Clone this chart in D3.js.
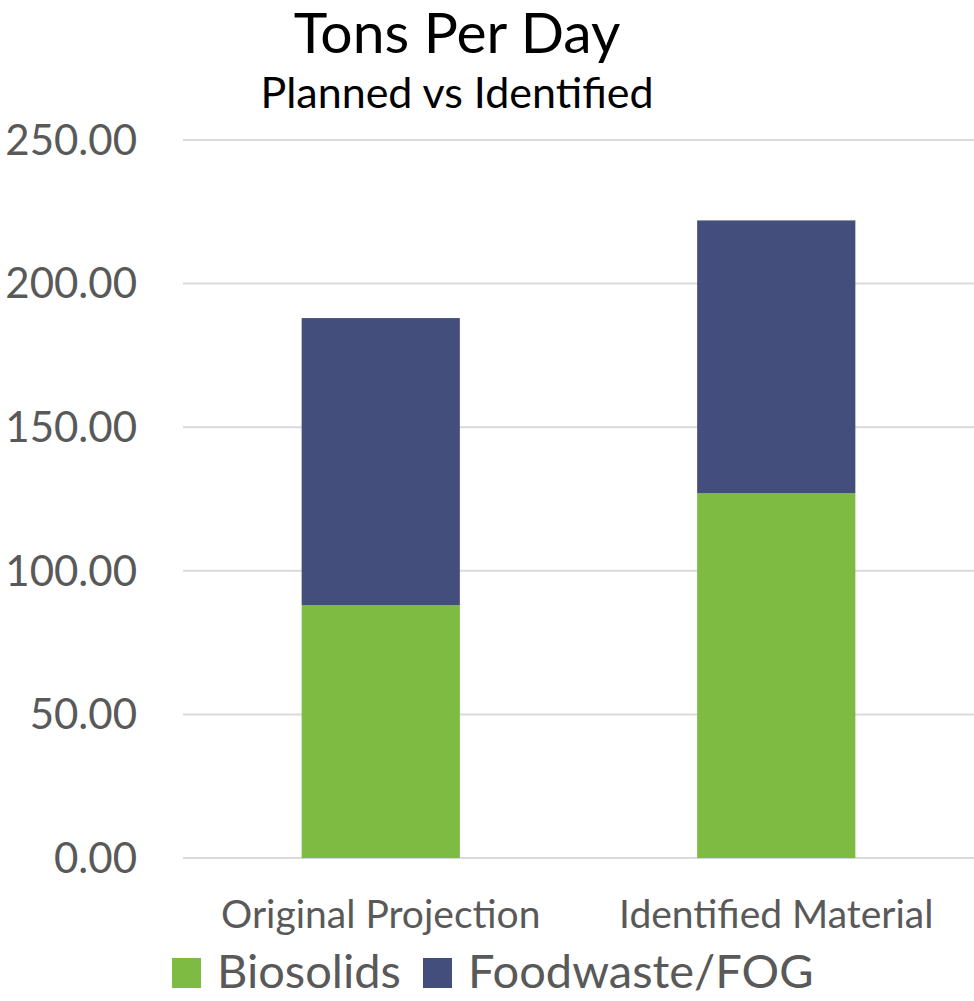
<!DOCTYPE html>
<html>
<head>
<meta charset="utf-8">
<script src="https://cdn.jsdelivr.net/npm/d3@7"></script>
<style>
  html, body { margin: 0; padding: 0; background: #fff; }
  svg { display: block; font-family: Lato, "Open Sans", sans-serif; }
</style>
</head>
<body>
<svg id="chart" width="974" height="1001"></svg>
<script>
(function () {
    'use strict';

    const categories = ["Original Projection", "Identified Material"];
    const biosolids = [88, 127];
    const foodwaste = [100, 95];
    const seriesNames = ["Biosolids", "Foodwaste/FOG"];
    const colors = ["#7dbb42", "#434e7c"];
    const yTicks = [0, 50, 100, 150, 200, 250];

    const width = 974;
    const margin = {left: 183, right: 0, top: 140, bottom: 143};
    const height = 1001;

    const rows = categories.map((c, i) => ({
        category: c,
        Biosolids: biosolids[i],
        "Foodwaste/FOG": foodwaste[i]
    }));

    const stack = d3.stack().keys(seriesNames)(rows);

    const x = d3.scaleBand()
        .domain(categories)
        .range([margin.left, width - margin.right])
        .paddingInner(0.6)
        .paddingOuter(0.3);

    const y = d3.scaleLinear()
        .domain([0, 250])
        .range([height - margin.bottom, margin.top]);

    const color = d3.scaleOrdinal().domain(seriesNames).range(colors);

    const svg = d3.select("#chart");

    // gridlines
    svg.append("g")
        .selectAll("line")
        .data(yTicks)
        .join("line")
        .attr("x1", margin.left)
        .attr("x2", width - margin.right)
        .attr("y1", d => y(d))
        .attr("y2", d => y(d))
        .attr("stroke", "#d9d9d9")
        .attr("stroke-width", 2);

    // y tick labels
    svg.append("g")
        .attr("text-anchor", "end")
        .attr("fill", "#595959")
        .style("font-size", "42px")
        .selectAll("text")
        .data(yTicks)
        .join("text")
        .attr("x", 137)
        .attr("y", d => y(d))
        .attr("dy", "0.35em")
        .text(d3.format(".2f"));

    // stacked bars
    svg.append("g")
        .selectAll("g")
        .data(stack)
        .join("g")
        .attr("fill", d => color(d.key))
        .selectAll("rect")
        .data(d => d)
        .join("rect")
        .attr("x", d => x(d.data.category))
        .attr("width", x.bandwidth())
        .attr("y", d => y(d[1]))
        .attr("height", d => y(d[0]) - y(d[1]));

    // category labels
    svg.append("g")
        .attr("text-anchor", "middle")
        .attr("fill", "#595959")
        .style("font-size", "39px")
        .selectAll("text")
        .data(categories)
        .join("text")
        .attr("x", d => x(d) + x.bandwidth() / 2)
        .attr("y", 914)
        .attr("dy", "0.35em")
        .text(d => d);

    // titles
    svg.append("text")
        .attr("x", 457)
        .attr("y", 33)
        .attr("dy", "0.35em")
        .attr("text-anchor", "middle")
        .style("font-size", "57px")
        .attr("fill", "#000")
        .text("Tons Per Day");

    svg.append("text")
        .attr("x", 457)
        .attr("y", 93)
        .attr("dy", "0.35em")
        .attr("text-anchor", "middle")
        .style("font-size", "43px")
        .attr("fill", "#000")
        .text("Planned vs Identified");

    // legend
    const legend = svg.append("g")
        .style("font-size", "47px")
        .attr("fill", "#595959");
    const legendX = [172, 423];
    seriesNames.forEach((name, i) => {
        legend.append("rect")
            .attr("x", legendX[i])
            .attr("y", 958)
            .attr("width", 29)
            .attr("height", 30)
            .attr("fill", color(name));
        legend.append("text")
            .attr("x", legendX[i] + 45)
            .attr("y", 972)
            .attr("dy", "0.35em")
            .text(name);
    });
}());
</script>
</body>
</html>
